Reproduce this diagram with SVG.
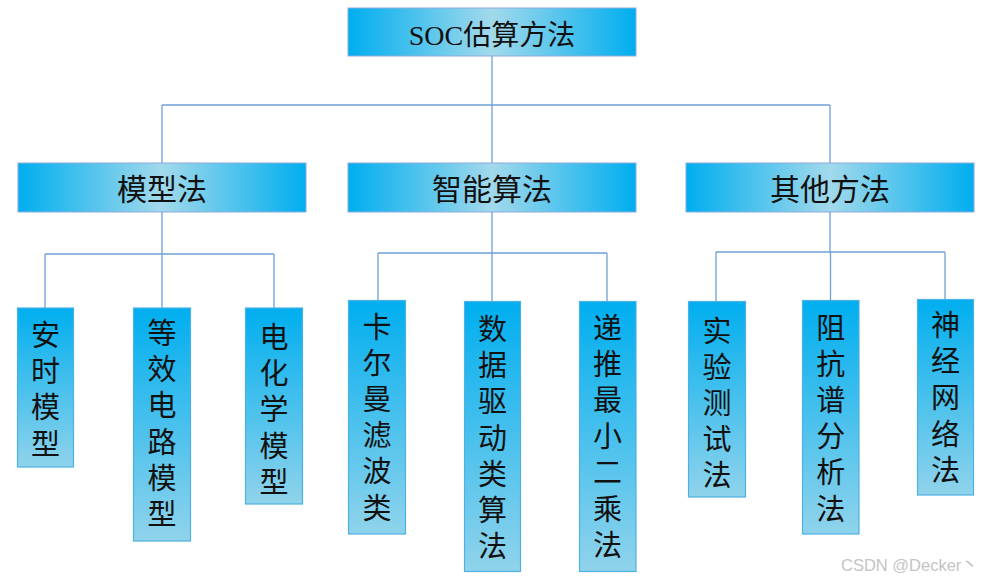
<svg xmlns="http://www.w3.org/2000/svg" width="991" height="583" viewBox="0 0 991 583">
<defs>
<linearGradient id="gh" x1="0" y1="0" x2="1" y2="0">
<stop offset="0" stop-color="#00AEEF"/>
<stop offset="0.5" stop-color="#A2D9EB"/>
<stop offset="1" stop-color="#00AEEF"/>
</linearGradient>
<linearGradient id="gv" x1="0" y1="0" x2="0" y2="1">
<stop offset="0" stop-color="#00AEEF"/>
<stop offset="1" stop-color="#90D3EB"/>
</linearGradient>
<style>
.hb{fill:url(#gh);stroke:#8EAADB;stroke-width:1}
.lb{fill:url(#gv);stroke:#4FB0E3;stroke-width:1.2}
.t{font-family:"Noto Sans CJK SC","Noto Sans CJK JP",sans-serif;fill:#111;text-anchor:middle}
.tt{font-size:28px}
.mt{font-size:30px}
.lt{font-family:"Noto Sans CJK SC","Noto Sans CJK JP",sans-serif;fill:#111;font-size:29px;writing-mode:vertical-rl;text-orientation:upright;letter-spacing:7.2px}
.c{fill:none;stroke:#6FA1D8;stroke-width:1.3}
.wm{font-family:"Liberation Sans","Noto Sans CJK SC",sans-serif;font-size:16.5px;fill:#C4C4C4}
</style>
</defs>
<g id="connectors">
<path class="c" d="M492 56V105M162 105H830M162 105V163M492 105V163M830 105V163"/>
<path class="c" d="M162 212V254M45 254H274M45 254V308M162 254V308M274 254V308"/>
<path class="c" d="M492 212V253M378 253H607M378 253V301M492 253V302M607 253V302"/>
<path class="c" d="M830 212V252M716 252H945M716 252V302M830.5 252V301M945 252V299"/>
</g>
<g id="root">
<rect class="hb" x="348" y="8" width="288" height="48"/>
<text class="t tt" x="492" y="45"><tspan font-family="Liberation Serif">SOC</tspan>估算方法</text>
</g>
<g id="n-model">
<rect class="hb" x="18" y="163" width="288" height="49"/>
<text class="t mt" x="162" y="200">模型法</text>
</g>
<g id="n-smart">
<rect class="hb" x="348" y="163" width="288" height="49"/>
<text class="t mt" x="492" y="200">智能算法</text>
</g>
<g id="n-other">
<rect class="hb" x="686" y="163" width="288" height="49"/>
<text class="t mt" x="830" y="200">其他方法</text>
</g>
<g id="l-ah">
<rect class="lb" x="17.5" y="308" width="56" height="159"/>
<text class="lt" x="45.5" y="320.5">安时模型</text>
</g>
<g id="l-ecm">
<rect class="lb" x="133.5" y="308" width="57" height="233"/>
<text class="lt" x="162" y="318.5">等效电路模型</text>
</g>
<g id="l-echem">
<rect class="lb" x="245.5" y="308" width="57" height="196"/>
<text class="lt" x="274" y="322.5" letter-spacing="6.5">电化学模型</text>
</g>
<g id="l-kalman">
<rect class="lb" x="348.5" y="300.5" width="57" height="233.5"/>
<text class="lt" x="377" y="312">卡尔曼滤波类</text>
</g>
<g id="l-data">
<rect class="lb" x="464.5" y="301.5" width="56" height="270"/>
<text class="lt" x="492.5" y="314.5">数据驱动类算法</text>
</g>
<g id="l-rls">
<rect class="lb" x="579.5" y="301.5" width="56.5" height="270"/>
<text class="lt" x="607.5" y="313">递推最小二乘法</text>
</g>
<g id="l-test">
<rect class="lb" x="688.5" y="301.5" width="57" height="195.5"/>
<text class="lt" x="717" y="316">实验测试法</text>
</g>
<g id="l-eis">
<rect class="lb" x="802.5" y="300.5" width="56.5" height="233.5"/>
<text class="lt" x="830.8" y="313">阻抗谱分析法</text>
</g>
<g id="l-nn">
<rect class="lb" x="917.5" y="299.5" width="56" height="195.5"/>
<text class="lt" x="945.5" y="310.5">神经网络法</text>
</g>
<text class="wm" x="841" y="571">CSDN @Decker丶</text>
</svg>
